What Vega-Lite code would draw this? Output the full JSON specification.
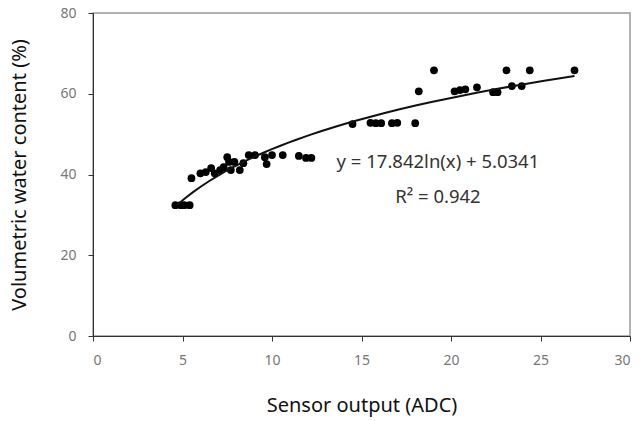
{
  "$schema": "https://vega.github.io/schema/vega-lite/v6.json",
  "width": 537,
  "height": 323,
  "autosize": "none",
  "padding": {"left": 93, "top": 13, "right": 11, "bottom": 85},
  "config": {
    "font": "Noto Sans",
    "view": {"stroke": "#999", "strokeWidth": 1.5},
    "axis": {
      "grid": false,
      "domainColor": "#333",
      "tickColor": "#333",
      "tickSize": 5,
      "labelColor": "#777",
      "labelFontSize": 14,
      "titleFontSize": 20,
      "titleFontWeight": "normal",
      "titleColor": "#111"
    }
  },
  "datasets": {
    "pts": [
      {"x": 4.6, "y": 32.4}, {"x": 4.9, "y": 32.4}, {"x": 5.1, "y": 32.4}, {"x": 5.4, "y": 32.4},
      {"x": 5.5, "y": 39.1}, {"x": 6.0, "y": 40.3}, {"x": 6.3, "y": 40.6}, {"x": 6.6, "y": 41.6},
      {"x": 6.8, "y": 40.3}, {"x": 7.1, "y": 41.1}, {"x": 7.3, "y": 41.8}, {"x": 7.5, "y": 44.3},
      {"x": 7.6, "y": 43.1}, {"x": 7.7, "y": 41.1}, {"x": 7.9, "y": 43.1}, {"x": 8.2, "y": 41.1},
      {"x": 8.4, "y": 42.8}, {"x": 8.7, "y": 44.8}, {"x": 9.05, "y": 44.8}, {"x": 9.6, "y": 44.3},
      {"x": 9.7, "y": 42.6}, {"x": 10.0, "y": 44.8}, {"x": 10.6, "y": 44.8}, {"x": 11.5, "y": 44.6},
      {"x": 11.9, "y": 44.1}, {"x": 12.2, "y": 44.1},
      {"x": 14.5, "y": 52.5}, {"x": 15.5, "y": 52.8}, {"x": 15.8, "y": 52.7}, {"x": 16.1, "y": 52.7},
      {"x": 16.7, "y": 52.7}, {"x": 17.0, "y": 52.8}, {"x": 18.0, "y": 52.7}, {"x": 18.2, "y": 60.6},
      {"x": 19.05, "y": 65.8}, {"x": 20.2, "y": 60.6}, {"x": 20.5, "y": 60.9}, {"x": 20.8, "y": 61.1},
      {"x": 21.45, "y": 61.6}, {"x": 22.35, "y": 60.4}, {"x": 22.6, "y": 60.4}, {"x": 23.1, "y": 65.8},
      {"x": 23.4, "y": 61.9}, {"x": 23.95, "y": 61.9}, {"x": 24.4, "y": 65.8}, {"x": 26.9, "y": 65.8}
    ],
    "notes": [
      {"x": 19.27, "y": 43.1, "label": "y = 17.842ln(x) + 5.0341"},
      {"x": 19.27, "y": 34.4, "label": "R² = 0.942"}
    ]
  },
  "layer": [
    {
      "data": {"name": "pts"},
      "mark": {"type": "point", "filled": true, "color": "#000", "size": 60, "opacity": 1},
      "encoding": {
        "x": {"field": "x", "type": "quantitative", "scale": {"domain": [0, 30]},
              "axis": {"values": [0, 5, 10, 15, 20, 25, 30], "title": "Sensor output (ADC)", "labelPadding": 12, "titlePadding": 28}},
        "y": {"field": "y", "type": "quantitative", "scale": {"domain": [0, 80]},
              "axis": {"values": [0, 20, 40, 60, 80], "title": "Volumetric water content (%)", "labelPadding": 12, "titlePadding": 30}}
      }
    },
    {
      "data": {"name": "pts"},
      "transform": [{"regression": "y", "on": "x", "method": "log", "extent": [4.7, 26.9]}],
      "mark": {"type": "line", "color": "#111", "strokeWidth": 2},
      "encoding": {
        "x": {"field": "x", "type": "quantitative"},
        "y": {"field": "y", "type": "quantitative"}
      }
    },
    {
      "data": {"name": "notes"},
      "mark": {"type": "text", "fontSize": 18.5, "color": "#333", "align": "center", "baseline": "middle"},
      "encoding": {
        "x": {"field": "x", "type": "quantitative"},
        "y": {"field": "y", "type": "quantitative"},
        "text": {"field": "label"}
      }
    }
  ]
}
